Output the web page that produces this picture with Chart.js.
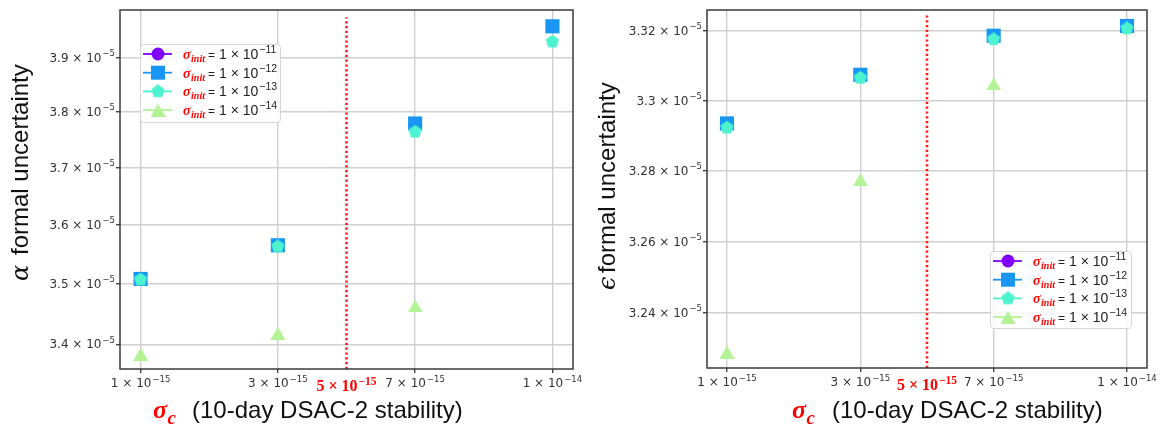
<!DOCTYPE html>
<html>
<head>
<meta charset="utf-8">
<script src="https://cdn.jsdelivr.net/npm/chart.js@4.4.1/dist/chart.umd.min.js"></script>
<style>
  body { margin: 0; background: #fff; width: 1167px; height: 433px; overflow: hidden; position: relative; }
  .panel { position: absolute; top: 0; }
  #leftPanel { left: 0; }
  #rightPanel { left: 585px; }
</style>
</head>
<body>
<div class="panel" id="leftPanel"><canvas id="alphaChart" width="585" height="433"></canvas></div>
<div class="panel" id="rightPanel"><canvas id="epsChart" width="582" height="433"></canvas></div>
<script>
// sigma_c positions on the x axis (evenly spaced index scale) and their labels
const xPos = [0, 2, 4, 6];
const xTickMantissa = ['1 × 10', '3 × 10', '7 × 10', '1 × 10'];
const xTickExponent = ['−15', '−15', '−15', '−14'];
const cutPos = 3;
const cutMantissa = '5 × 10';
const cutExponent = '−15';

// sigma_init legend exponents and series colours (rainbow map)
const initExponents = ['−11', '−12', '−13', '−14'];
const seriesColors = ['#8000ff', '#1996f3', '#4df3ce', '#b3f396'];

// alpha formal uncertainty
const alphaInit11 = [3.508e-5, 3.565e-5, 3.779e-5, 3.959e-5];
const alphaInit12 = [3.508e-5, 3.565e-5, 3.779e-5, 3.959e-5];
const alphaInit13 = [3.507e-5, 3.563e-5, 3.764e-5, 3.930e-5];
const alphaInit14 = [3.384e-5, 3.418e-5, 3.463e-5, null];
const alphaTicks = [3.4e-5, 3.5e-5, 3.6e-5, 3.7e-5, 3.8e-5, 3.9e-5];
const alphaTickMantissa = ['3.4', '3.5', '3.6', '3.7', '3.8', '3.9'];
const alphaRange = [3.36e-5, 3.99e-5];
const alphaCutSpan = [3.36e-5, 3.976e-5];

// epsilon formal uncertainty
const epsInit11 = [3.2935e-5, 3.3074e-5, 3.3186e-5, 3.3214e-5];
const epsInit12 = [3.2935e-5, 3.3074e-5, 3.3186e-5, 3.3214e-5];
const epsInit13 = [3.2923e-5, 3.3065e-5, 3.3176e-5, 3.3207e-5];
const epsInit14 = [3.2289e-5, 3.2775e-5, 3.3048e-5, null];
const epsTicks = [3.24e-5, 3.26e-5, 3.28e-5, 3.30e-5, 3.32e-5];
const epsTickMantissa = ['3.24', '3.26', '3.28', '3.3', '3.32'];
const epsRange = [3.2245e-5, 3.326e-5];
const epsCutSpan = [3.2245e-5, 3.3246e-5];

// pentagon and triangle markers as small canvases (Chart.js has no pentagon)
function markerCanvas(shape, color, w, h) {
    const c = document.createElement('canvas');
    c.width = w; c.height = h;
    const g = c.getContext('2d');
    g.fillStyle = color;
    g.beginPath();
    if (shape === 'pentagon') {
        const r = w / 2;
        for (let i = 0; i < 5; i++) {
            const a = -Math.PI / 2 + i * 2 * Math.PI / 5;
            g.lineTo(w / 2 + r * Math.cos(a), h / 2 + r * Math.sin(a));
        }
    } else {
        g.moveTo(w / 2, 0);
        g.lineTo(w, h);
        g.lineTo(0, h);
    }
    g.closePath();
    g.fill();
    return c;
}
const pentagonImg = markerCanvas('pentagon', seriesColors[2], 14, 14);
const triangleImg = markerCanvas('triangle', seriesColors[3], 15, 13);

function toPoints(values) {
    return xPos.map((x, i) => ({ x, y: values[i] })).filter(p => p.y !== null);
}

function drawMarker(g, idx, x, y) {
    g.fillStyle = seriesColors[idx];
    if (idx === 0) {
        g.beginPath(); g.arc(x, y, 6.5, 0, Math.PI * 2); g.fill();
    } else if (idx === 1) {
        g.fillRect(x - 7, y - 7, 14, 14);
    } else {
        const img = idx === 2 ? pentagonImg : triangleImg;
        g.drawImage(img, x - img.width / 2, y - img.height / 2);
    }
}

// "m × 10^e" style label with a raised exponent
function drawPow(g, mant, exp, x, y, align, f) {
    g.font = f.base;
    const w1 = g.measureText(mant).width;
    g.font = f.sup;
    const w2 = g.measureText(exp).width;
    const total = w1 + f.gap + w2;
    let x0 = x;
    if (align === 'center') x0 = x - total / 2;
    else if (align === 'right') x0 = x - total;
    g.fillStyle = f.color;
    g.textAlign = 'left';
    g.textBaseline = 'alphabetic';
    g.font = f.base;
    g.fillText(mant, x0, y);
    g.font = f.sup;
    g.fillText(exp, x0 + w1 + f.gap, y - f.raise);
}

const tickFont = { base: '12px "DejaVu Sans"', sup: '8.5px "DejaVu Sans"', gap: 1, raise: 5.5, color: '#333' };
const cutFont = { base: 'bold 16px "Liberation Serif"', sup: 'bold 11.5px "Liberation Serif"', gap: 1, raise: 6.5, color: '#ff0000' };

// red bold italic sigma with a subscript, returns the x where it ends
function drawSigma(g, x, y, size, sub) {
    g.fillStyle = '#ff0000';
    g.font = `italic bold ${size}px "Liberation Serif"`;
    g.textAlign = 'left';
    g.textBaseline = 'alphabetic';
    g.fillText('σ', x, y);
    const w = g.measureText('σ').width;
    g.font = `italic bold ${Math.round(size * 0.72)}px "Liberation Serif"`;
    g.fillText(sub, x + w + 0.5, y + size * 0.22);
    return x + w + 0.5 + g.measureText(sub).width;
}

const decorPlugin = {
    id: 'decor',
    afterDatasetsDraw(chart) {
        const { ctx: g, chartArea: a } = chart;
        g.save();
        g.strokeStyle = '#3a3a3a';
        g.lineWidth = 1.5;
        g.strokeRect(a.left, a.top, a.right - a.left, a.bottom - a.top);
        g.restore();
    },
    afterDraw(chart) {
        const g = chart.ctx;
        const a = chart.chartArea;
        const p = chart.options.plugins.decor;
        const xs = chart.scales.x, ys = chart.scales.y;
        g.save();

        // tick labels
        xPos.forEach((v, i) => {
            drawPow(g, xTickMantissa[i], xTickExponent[i], xs.getPixelForValue(v), a.bottom + 18, 'center', tickFont);
        });
        drawPow(g, cutMantissa, cutExponent, xs.getPixelForValue(cutPos), a.bottom + 22, 'center', cutFont);
        p.yTicks.forEach((v, i) => {
            drawPow(g, p.yMantissa[i] + ' × 10', '−5', a.left - 5, ys.getPixelForValue(v) + 4, 'right', tickFont);
        });

        // legend box
        const lg = p.legend;
        g.fillStyle = 'rgba(255,255,255,0.85)';
        g.strokeStyle = '#d6d6d6';
        g.lineWidth = 1;
        g.beginPath();
        g.roundRect(lg.x + 0.5, lg.y + 0.5, lg.w, lg.h, 3);
        g.fill(); g.stroke();
        initExponents.forEach((ex, i) => {
            const cy = lg.y + 10 + i * 18.7;
            g.strokeStyle = seriesColors[i];
            g.lineWidth = 1.8;
            g.beginPath(); g.moveTo(lg.x + 3, cy); g.lineTo(lg.x + 32, cy); g.stroke();
            drawMarker(g, i, lg.x + 18, cy);
            const base = cy + 5;
            let tx = drawSigma(g, lg.x + 43, base, 14, 'init');
            g.fillStyle = '#222';
            g.font = '12px "Liberation Sans"';
            g.fillText('=', tx + 3, base);
            tx += 3 + g.measureText('=').width + 4;
            g.font = '14px "Liberation Sans"';
            g.fillText('1 × 10', tx, base);
            tx += g.measureText('1 × 10').width + 1;
            g.font = '10.5px "Liberation Sans"';
            g.fillText(ex, tx, base - 6);
        });

        // x axis title
        const xt = p.xTitle;
        drawSigma(g, xt.sigmaX, 418, 26, 'c');
        g.fillStyle = '#111';
        g.font = '24px "Liberation Sans"';
        g.fillText('(10-day DSAC-2 stability)', xt.textX, 418);

        // y axis title, rotated
        const yt = p.yTitle;
        g.translate(yt.baseX, yt.startY);
        g.rotate(-Math.PI / 2);
        g.fillStyle = '#111';
        g.font = 'italic 24px "DejaVu Serif"';
        g.fillText(yt.symbol, 0, 0);
        g.font = '24px "Liberation Sans"';
        g.fillText('formal uncertainty', yt.gap, 0);
        g.restore();
    }
};

function buildChart(canvasId, cfg) {
    const s = cfg.series;
    return new Chart(document.getElementById(canvasId), {
        type: 'scatter',
        data: {
            datasets: [
                { data: toPoints(s[0]), pointStyle: 'circle', pointRadius: 6.5, backgroundColor: seriesColors[0], borderWidth: 0, order: 5 },
                { data: toPoints(s[1]), pointStyle: 'rect', pointRadius: 10, backgroundColor: seriesColors[1], borderWidth: 0, order: 4 },
                { data: toPoints(s[2]), pointStyle: pentagonImg, pointRadius: 7, order: 3 },
                { data: toPoints(s[3]), pointStyle: triangleImg, pointRadius: 7, order: 2 },
                {
                    data: [{ x: cutPos, y: cfg.cutSpan[0] }, { x: cutPos, y: cfg.cutSpan[1] }],
                    showLine: true, pointRadius: 0, borderColor: '#ff1a1a', borderWidth: 2.6,
                    borderDash: [2.2, 2.6], order: 1
                }
            ]
        },
        options: {
            responsive: false,
            animation: false,
            events: [],
            layout: { padding: { top: cfg.padTop, right: cfg.padRight, left: 0, bottom: 0 } },
            scales: {
                x: {
                    type: 'linear',
                    min: -0.3, max: 6.3,
                    afterBuildTicks: scale => {
                        scale.ticks = [...xPos, cutPos].sort((a, b) => a - b).map(v => ({ value: v }));
                    },
                    afterFit: scale => { scale.height = cfg.xAxisHeight; },
                    ticks: { display: false },
                    grid: {
                        color: c => c.tick && c.tick.value === cutPos ? 'rgba(0,0,0,0)' : '#cfcfcf',
                        tickColor: c => c.tick && c.tick.value === cutPos ? 'rgba(0,0,0,0)' : '#444',
                        lineWidth: 1.4, tickLength: 4
                    },
                    border: { display: false }
                },
                y: {
                    type: 'logarithmic',
                    min: cfg.range[0], max: cfg.range[1],
                    afterBuildTicks: scale => { scale.ticks = cfg.ticks.map(v => ({ value: v })); },
                    afterFit: scale => { scale.width = cfg.yAxisWidth; },
                    ticks: { display: false },
                    grid: { color: '#cfcfcf', tickColor: '#444', lineWidth: 1.4, tickLength: 4 },
                    border: { display: false }
                }
            },
            plugins: {
                legend: { display: false },
                tooltip: { enabled: false },
                decor: {
                    yTicks: cfg.ticks,
                    yMantissa: cfg.tickMantissa,
                    legend: cfg.legend,
                    xTitle: cfg.xTitle,
                    yTitle: cfg.yTitle
                }
            }
        },
        plugins: [decorPlugin]
    });
}

buildChart('alphaChart', {
    series: [alphaInit11, alphaInit12, alphaInit13, alphaInit14],
    ticks: alphaTicks, tickMantissa: alphaTickMantissa,
    range: alphaRange, cutSpan: alphaCutSpan,
    padTop: 4, padRight: 12, yAxisWidth: 120, xAxisHeight: 64,
    legend: { x: 140, y: 44, w: 140, h: 78 },
    xTitle: { sigmaX: 153, textX: 192 },
    yTitle: { symbol: 'α', baseX: 28, startY: 281, gap: 26 }
});

buildChart('epsChart', {
    series: [epsInit11, epsInit12, epsInit13, epsInit14],
    ticks: epsTicks, tickMantissa: epsTickMantissa,
    range: epsRange, cutSpan: epsCutSpan,
    padTop: 7, padRight: 20, yAxisWidth: 122, xAxisHeight: 65,
    legend: { x: 405, y: 251, w: 141, h: 77 },
    xTitle: { sigmaX: 207, textX: 247 },
    yTitle: { symbol: 'ϵ', baseX: 30, startY: 290, gap: 17 }
});
</script>
</body>
</html>
